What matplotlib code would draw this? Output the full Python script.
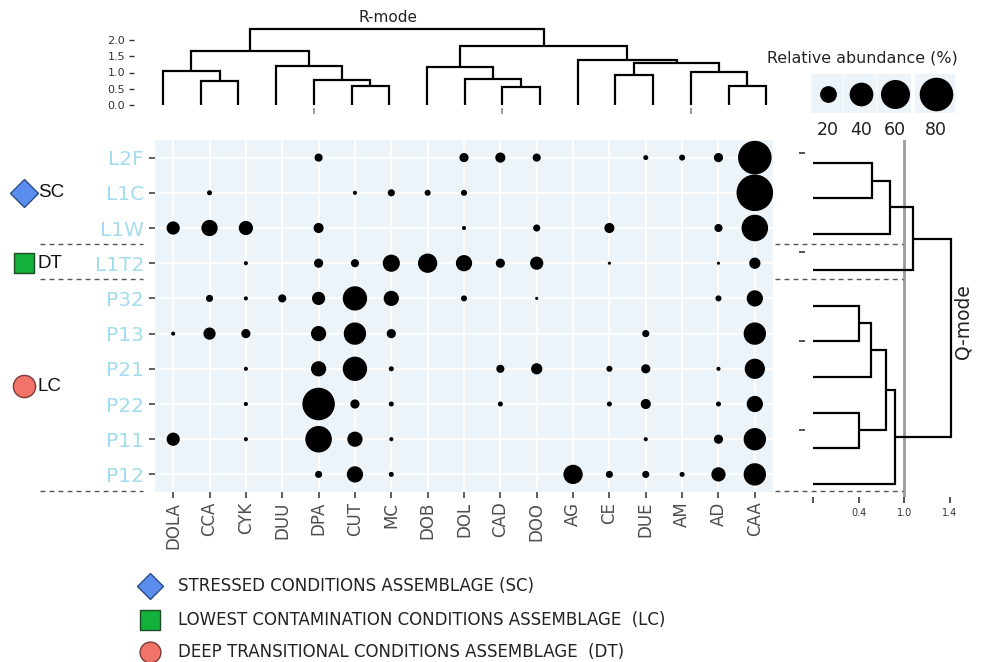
import matplotlib
matplotlib.use('Agg')
import matplotlib.pyplot as plt
from matplotlib.patches import Rectangle
import numpy as np

# ---------------- data ----------------
species = ['DOLA', 'CCA', 'CYK', 'DUU', 'DPA', 'CUT', 'MC', 'DOB', 'DOL',
           'CAD', 'DOO', 'AG', 'CE', 'DUE', 'AM', 'AD', 'CAA']
samples = ['L2F', 'L1C', 'L1W', 'L1T2', 'P32', 'P13', 'P21', 'P22', 'P11', 'P12']

# relative abundance (%) of each species (columns above) in each sample; 0 = absent
ab_L2F  = [0, 0, 0, 0, 4.7, 0, 0, 0, 6, 7.3, 4.7, 0, 0, 1.8, 2.6, 6, 80]
ab_L1C  = [0, 1.8, 0, 0, 0, 1.2, 3.6, 2.6, 2.6, 0, 0, 0, 0, 0, 0, 0, 95]
ab_L1W  = [12.4, 18.8, 14.4, 0, 7.3, 0, 0, 0, 1.2, 0, 3.6, 0, 7.3, 0, 0, 4.7, 50]
ab_L1T2 = [0, 0, 1.2, 0, 6, 4.7, 21, 26.5, 18.8, 6, 12.4, 0, 0.7, 0, 0, 0.7, 9]
ab_P32  = [0, 3.6, 1.2, 4.7, 12.4, 42, 16.5, 0, 2.6, 0, 0.7, 0, 0, 0, 0, 2.6, 18.8]
ab_P13  = [1.2, 10.6, 6, 0, 16.5, 35.5, 6, 0, 0, 0, 0, 0, 0, 3.6, 0, 0, 35.5]
ab_P21  = [0, 0, 1.2, 0, 16.5, 42, 1.8, 0, 0, 4.7, 9, 0, 2.6, 6, 0, 1.2, 29]
ab_P22  = [0, 0, 1.2, 0, 75, 6, 1.8, 0, 0, 1.8, 0, 0, 1.8, 7.3, 0, 1.8, 18.8]
ab_P11  = [12.4, 0, 1.2, 0, 50, 16.5, 1.2, 0, 0, 0, 0, 0, 0, 1.2, 0, 6, 35.5]
ab_P12  = [0, 0, 0, 0, 3.6, 18.8, 1.8, 0, 0, 0, 0, 26.5, 3.6, 3.6, 1.8, 14.4, 35.5]
abundance = [ab_L2F, ab_L1C, ab_L1W, ab_L1T2, ab_P32, ab_P13, ab_P21, ab_P22, ab_P11, ab_P12]

legend_values = [20, 40, 60, 80]

# R-mode (species) clustering: merge of node a and node b at height h
r_a = [1, 0, 5, 4, 3, 18, 9, 8, 7, 12, 15, 14, 26, 11, 25, 22]
r_b = [2, 17, 6, 19, 20, 21, 10, 23, 24, 13, 16, 27, 28, 29, 30, 31]
r_h = [0.73, 1.06, 0.57, 0.78, 1.19, 1.66, 0.54, 0.80, 1.16, 0.91, 0.59, 1.02, 1.30, 1.40, 1.83, 2.33]
r_ticks = [0.0, 0.5, 1.0, 1.5, 2.0]

# Q-mode (samples) clustering
q_a = [0, 10, 11, 4, 13, 7, 14, 16, 12]
q_b = [1, 2, 3, 5, 6, 8, 15, 9, 17]
q_h = [0.65, 0.84, 1.10, 0.50, 0.64, 0.50, 0.80, 0.90, 1.52]
q_tick_pos = [0.0, 0.5, 1.0, 1.5]
q_tick_lab = ['', '0.4', '1.0', '1.4']
q_cut = 1.0

groups = ['SC', 'DT', 'LC']
group_first = [0, 3, 4]
group_last = [2, 3, 9]
group_color = ['#5b8def', '#13b03c', '#f2736a']
group_edge = ['#2c4c86', '#1b4a24', '#7c3a35']
group_marker = ['D', 's', 'o']
legend_text = ['STRESSED CONDITIONS ASSEMBLAGE (SC)',
               'LOWEST CONTAMINATION CONDITIONS ASSEMBLAGE  (LC)',
               'DEEP TRANSITIONAL CONDITIONS ASSEMBLAGE  (DT)']

# ---------------- layout helpers ----------------
W, H = 982, 662
fig = plt.figure(figsize=(W / 100, H / 100), dpi=100)
plt.rcParams['font.family'] = ['DejaVu Sans']


def px_axes(x0, y0, x1, y1, **kw):
    return fig.add_axes([x0 / W, 1 - y1 / H, (x1 - x0) / W, (y1 - y0) / H], **kw)


def size_of(v):
    return 7.3 * np.asarray(v, dtype=float)


def dendro(n, a_list, b_list, h_list):
    pos = list(range(n))
    hts = [0.0] * n
    segs = []
    for a, b, h in zip(a_list, b_list, h_list):
        xa, xb = pos[a], pos[b]
        segs.append(([xa, xa, xb, xb], [hts[a], h, h, hts[b]]))
        pos.append((xa + xb) / 2)
        hts.append(h)
    return segs


BG = '#ecf4fa'
DARK = '#333333'

# ---------------- bubble panel ----------------
P_L, P_T, P_R, P_B = 155, 140, 773, 492
ax = px_axes(P_L, P_T, P_R, P_B)
ax.set_facecolor(BG)
for s in ax.spines.values():
    s.set_visible(False)
ax.set_xlim(-0.5, len(species) - 0.5)
ax.set_ylim(len(samples) - 0.5, -0.5)
ax.set_xticks(range(len(species)))
ax.set_xticklabels(species, rotation=90, fontsize=12, color='#4d4d4d')
ax.set_yticks(range(len(samples)))
ax.set_yticklabels(samples, fontsize=14.5, color='#a3dcee')
ax.tick_params(axis='both', length=4, width=1.1, color=DARK)
ax.tick_params(axis='x', pad=3)
ax.tick_params(axis='y', pad=4)
ax.grid(True, color='white', linewidth=1.3)
ax.set_axisbelow(True)
xs, ys, vs = [], [], []
for r, row in enumerate(abundance):
    for c, v in enumerate(row):
        if v > 0:
            xs.append(c); ys.append(r); vs.append(v)
ax.scatter(xs, ys, s=size_of(vs), color='black', linewidths=0, zorder=3, clip_on=False)

# ---------------- top dendrogram (R-mode) ----------------
LEAF0, LSTEP = 163, 37.7
ZERO_Y, UNIT_Y = 105, 32.5
T_L, T_T, T_R, T_B = 134, 25, 780, 108
axt = px_axes(T_L, T_T, T_R, T_B)
axt.patch.set_visible(False)
for s in axt.spines.values():
    s.set_visible(False)
axt.set_xlim(-(LEAF0 - T_L) / LSTEP, (T_R - LEAF0) / LSTEP)
axt.set_ylim(-(T_B - ZERO_Y) / UNIT_Y, (ZERO_Y - T_T) / UNIT_Y)
for xx, yy in dendro(len(species), r_a, r_b, r_h):
    axt.plot(xx, yy, color='black', lw=1.6, solid_joinstyle='miter', solid_capstyle='butt')
axt.set_yticks(r_ticks)
axt.set_yticklabels([f'{t:.1f}' for t in r_ticks], fontsize=8, color=DARK)
axt.tick_params(axis='y', length=3.5, width=1, color=DARK, pad=3)
axt.set_xticks([4, 9, 14])
axt.set_xticklabels([])
axt.tick_params(axis='x', length=4, width=1.2, color='#8a8a8a')

# ---------------- right dendrogram (Q-mode) ----------------
QLEAF0, QSTEP = 162.7, 35.7
QZERO_X, QUNIT_X = 813, 91.1
R_L, R_T, R_R, R_B = 805, 140, 975, 497
axr = px_axes(R_L, R_T, R_R, R_B)
axr.patch.set_visible(False)
for s in axr.spines.values():
    s.set_visible(False)
axr.set_xlim((R_L - QZERO_X) / QUNIT_X, (R_R - QZERO_X) / QUNIT_X)
axr.set_ylim((R_B - QLEAF0) / QSTEP, (R_T - QLEAF0) / QSTEP)
axr.axvline(q_cut, color='#9c9c9c', lw=2.0, zorder=1)
for xx, yy in dendro(len(samples), q_a, q_b, q_h):
    axr.plot(yy, xx, color='black', lw=1.6, solid_joinstyle='miter', solid_capstyle='butt', zorder=2)
axr.set_xticks(q_tick_pos)
axr.set_xticklabels(q_tick_lab, fontsize=7, color=DARK)
axr.tick_params(axis='x', length=4, width=1.2, color=DARK, pad=4)
axr.set_yticks([-0.27, 2.5, 5.0, 7.5])
axr.set_yticklabels([])
axr.tick_params(axis='y', length=4, width=1.2, color=DARK)

# ---------------- overlay (annotations) ----------------
ov = fig.add_axes([0, 0, 1, 1], zorder=5)
ov.set_xlim(0, W)
ov.set_ylim(H, 0)
ov.axis('off')

ov.text(388, 17, 'R-mode', fontsize=11, ha='center', va='center', color='#222222')
ov.text(963, 322, 'Q-mode', fontsize=13.5, ha='center', va='center', rotation=90, color='#222222')

# size legend
ov.text(862, 58, 'Relative abundance (%)', fontsize=11.4, ha='center', va='center', color='#222222')
leg_x = [828, 861, 895, 936]
leg_w = [33, 33, 35, 42]
for x, w, v in zip(leg_x, leg_w, legend_values):
    ov.add_patch(Rectangle((x - w / 2, 74), w - 1.5, 39, facecolor=BG, edgecolor='none'))
    ov.scatter([x], [94], s=size_of([v]), color='black', linewidths=0)
    ov.text(x, 130, str(v), fontsize=12.5, ha='center', va='center', color='#222222')

# group boundaries (dashed)
row_px = (P_B - P_T) / len(samples)
for last in group_last:
    yb = P_T + row_px * (last + 1)
    ov.plot([40, 143], [yb - 1.5, yb - 1.5], color='#555555', lw=1, ls=(0, (3.5, 3)))
    ov.plot([775, 903], [yb - 1.5, yb - 1.5], color='#555555', lw=1, ls=(0, (3.5, 3)))

# group markers on the left
msizes = [14, 15, 16]
for g, f, l, c, e, m, ms in zip(groups, group_first, group_last, group_color, group_edge,
                                 group_marker, msizes):
    yc = P_T + row_px * ((f + l) / 2 + 0.5)
    ov.plot([24], [yc], marker=m, markersize=ms, color=c, markeredgecolor=e, markeredgewidth=1)
    ov.text(38, yc, g, fontsize=13.5, ha='left', va='center', color='#111111',
            family=['Liberation Sans', 'DejaVu Sans'])

# bottom legend
leg_y = [586, 620, 652]
leg_order = [0, 1, 2]
leg_ms = [13, 15, 15]
for y, i, ms in zip(leg_y, leg_order, leg_ms):
    ov.plot([150], [y], marker=group_marker[i], markersize=ms, color=group_color[i],
            markeredgecolor=group_edge[i], markeredgewidth=1)
    ov.text(178, y, legend_text[i], fontsize=12, ha='left', va='center', color='#222222')

fig.savefig('out.png', dpi=100)
